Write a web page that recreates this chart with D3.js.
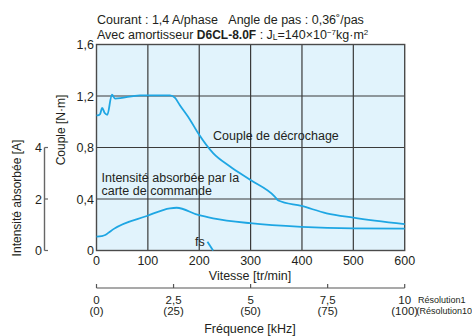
<!DOCTYPE html>
<html><head><meta charset="utf-8">
<script src="https://cdn.jsdelivr.net/npm/d3@7/dist/d3.min.js"></script>
<style>
body{margin:0;background:#fff;}
svg text{font-family:"Liberation Sans Narrow","Arial Narrow","Liberation Sans",sans-serif;fill:#231f20;}
</style></head>
<body><svg id="c" width="472" height="336"></svg>
<script>
// Data
const torqueTicks = [0, 0.4, 0.8, 1.2, 1.6];
const torqueTickLabels = ["0", "0,4", "0,8", "1,2", "1,6"];
const speedTicks = [0, 100, 200, 300, 400, 500, 600];
const currentTicks = [0, 2, 4];
const freqTicks = [0, 2.5, 5, 7.5, 10];
const freqLabels1 = ["0", "2,5", "5", "7,5", "10"];
const freqLabels10 = ["(0)", "(25)", "(50)", "(75)", "(100)"];
// Pull-out torque [speed r/min, N·m]
const torqueSpeed = [0, 2, 7, 11, 16, 21, 30, 36, 85, 143, 153, 162, 182, 198, 227, 260, 299, 347, 354, 399, 448, 500, 600];
const torqueVal   = [1.05, 1.05, 1.06, 1.107, 1.068, 1.054, 1.21, 1.18, 1.205, 1.205, 1.185, 1.13, 1.016, 0.91, 0.756, 0.652, 0.549, 0.419, 0.388, 0.346, 0.289, 0.255, 0.204];
// Driver input current [speed r/min, A]
const currentSpeed = [0, 10, 17, 26, 33, 98, 143, 156, 198, 227, 299, 399, 500, 600];
const currentVal   = [0.54, 0.56, 0.60, 0.73, 0.83, 1.34, 1.64, 1.66, 1.38, 1.25, 1.06, 0.92, 0.86, 0.85];
// Starting frequency mark
const fsSpeed = [216, 227];
const fsVal   = [0.068, 0];

const svg = d3.select("#c");
const x0 = 96.5, x1 = 404.7, yTop = 44.5, yBot = 250.5;
const x = d3.scaleLinear().domain([0, 600]).range([x0, x1]);
const y = d3.scaleLinear().domain([0, 1.6]).range([yBot, yTop]);
const yA = d3.scaleLinear().domain([0, 4]).range([yBot, y(0.8)]);
const xf = d3.scaleLinear().domain([0, 10]).range([x0, x1]);

const blue = "#1ea6e3", grid = "#3a3a3a";

svg.append("rect").attr("x", x0).attr("y", yTop).attr("width", x1 - x0).attr("height", yBot - yTop).attr("fill", "#e1f3fc");

// grid
const g = svg.append("g");
g.selectAll(".v").data(speedTicks.slice(1, -1)).enter().append("line")
  .attr("x1", d => x(d)).attr("x2", d => x(d)).attr("y1", yTop).attr("y2", yBot)
  .attr("stroke", grid).attr("stroke-width", 1.2);
g.selectAll(".h").data(torqueTicks.slice(1, -1)).enter().append("line")
  .attr("x1", x0).attr("x2", x1).attr("y1", d => y(d)).attr("y2", d => y(d))
  .attr("stroke", grid).attr("stroke-width", 1.2);
g.append("rect").attr("x", x0).attr("y", yTop).attr("width", x1 - x0).attr("height", yBot - yTop)
  .attr("fill", "none").attr("stroke", "#4a4a4a").attr("stroke-width", 1.4);

// curves
const line = d3.line().x(d => x(d[0])).y(d => d[2] ? yA(d[1]) : y(d[1])).curve(d3.curveMonotoneX);
const tData = torqueSpeed.map((s, i) => [s, torqueVal[i]]);
const cData = currentSpeed.map((s, i) => [s, currentVal[i], true]);
const fData = fsSpeed.map((s, i) => [s, fsVal[i]]);
[tData, cData].forEach(dd => svg.append("path").attr("d", line(dd)).attr("fill", "none")
  .attr("stroke", blue).attr("stroke-width", 1.8).attr("stroke-linejoin", "round"));
svg.append("path").attr("d", d3.line().x(d => x(d[0])).y(d => y(d[1]))(fData)).attr("fill", "none")
  .attr("stroke", blue).attr("stroke-width", 1.8);

// y tick labels
svg.selectAll(".yl").data(torqueTicks).enter().append("text")
  .attr("x", 94).attr("y", d => y(d) + 4.5).attr("text-anchor", "end").attr("font-size", 12.5)
  .text((d, i) => torqueTickLabels[i]);
// x tick labels
svg.selectAll(".xl").data(speedTicks).enter().append("text")
  .attr("x", d => x(d)).attr("y", 265).attr("text-anchor", "middle").attr("font-size", 12.5)
  .text(d => d);
svg.append("text").attr("x", 250).attr("y", 280).attr("text-anchor", "middle").attr("font-size", 12.5).text("Vitesse [tr/min]");

// current axis
const ca = svg.append("g");
ca.append("line").attr("x1", 44.5).attr("x2", 44.5).attr("y1", yA(0)).attr("y2", yA(4)).attr("stroke", "#666").attr("stroke-width", 1.4);
ca.selectAll(".ct").data(currentTicks).enter().append("line")
  .attr("x1", 44.5).attr("x2", 48).attr("y1", d => yA(d)).attr("y2", d => yA(d)).attr("stroke", "#666").attr("stroke-width", 1.2);
ca.selectAll(".cl").data(currentTicks).enter().append("text")
  .attr("x", 42).attr("y", d => yA(d) + 4.5).attr("text-anchor", "end").attr("font-size", 12.5).text(d => d);
svg.append("text").attr("transform", "translate(21,198) rotate(-90)").attr("text-anchor", "middle").attr("font-size", 12).text("Intensité absorbée [A]");
svg.append("text").attr("transform", "translate(65,130) rotate(-90)").attr("text-anchor", "middle").attr("font-size", 12).text("Couple [N·m]");

// frequency axis
const fy = 288;
svg.append("line").attr("x1", x0).attr("x2", x1).attr("y1", fy).attr("y2", fy).attr("stroke", "#555").attr("stroke-width", 1.2);
svg.selectAll(".ft").data(freqTicks).enter().append("line")
  .attr("x1", d => xf(d)).attr("x2", d => xf(d)).attr("y1", fy).attr("y2", fy - 4).attr("stroke", "#555").attr("stroke-width", 1.2);
svg.selectAll(".fl1").data(freqTicks).enter().append("text")
  .attr("x", d => xf(d)).attr("y", 303.5).attr("text-anchor", "middle").attr("font-size", 11.5).text((d, i) => freqLabels1[i]);
svg.selectAll(".fl2").data(freqTicks).enter().append("text")
  .attr("x", d => xf(d)).attr("y", 315).attr("text-anchor", "middle").attr("font-size", 11.5).text((d, i) => freqLabels10[i]);
svg.append("text").attr("x", 418).attr("y", 302.5).attr("font-size", 9).text("Résolution1");
svg.append("text").attr("x", 416.5).attr("y", 314).attr("font-size", 9).text("(Résolution10)");
svg.append("text").attr("x", 250).attr("y", 333).attr("text-anchor", "middle").attr("font-size", 12.5).text("Fréquence [kHz]");

// annotations
svg.append("text").attr("x", 213).attr("y", 139.5).attr("font-size", 12.5).text("Couple de décrochage");
svg.append("text").attr("x", 101.5).attr("y", 182).attr("font-size", 12.5).text("Intensité absorbée par la");
svg.append("text").attr("x", 101.5).attr("y", 195).attr("font-size", 12.5).text("carte de commande");
svg.append("text").attr("x", 195).attr("y", 246).attr("font-size", 12.5).text("fs");

// title
svg.append("text").attr("x", 97).attr("y", 24).attr("font-size", 12.5)
  .text("Courant : 1,4 A/phase\u00a0\u00a0\u00a0Angle de pas : 0,36˚/pas");
const t2 = svg.append("text").attr("x", 97).attr("y", 38.5).attr("font-size", 12.5);
t2.append("tspan").text("Avec amortisseur ");
t2.append("tspan").attr("font-family", "Liberation Sans, Arial, sans-serif").attr("font-weight", "bold").attr("font-size", 12).text("D6CL-8.0F");
t2.append("tspan").text(" : J");
t2.append("tspan").attr("font-size", 8.5).attr("dy", 1.5).text("L");
t2.append("tspan").attr("dy", -1.5).text("=140×10");
t2.append("tspan").attr("font-size", 8).attr("dy", -4).text("−7");
t2.append("tspan").attr("dy", 4).text("kg·m");
t2.append("tspan").attr("font-size", 8).attr("dy", -4).text("2");
</script></body></html>
